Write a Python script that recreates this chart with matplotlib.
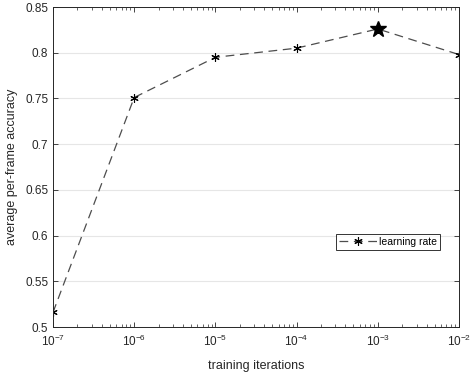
import numpy as np
import matplotlib.pyplot as plt
from matplotlib.ticker import LogLocator, NullFormatter

plt.rcParams['font.family'] = ['Liberation Sans', 'DejaVu Sans']
plt.rcParams['mathtext.fontset'] = 'custom'
plt.rcParams['mathtext.rm'] = 'Liberation Sans'
plt.rcParams['axes.unicode_minus'] = False

# data
learning_rate = [1e-7, 1e-6, 1e-5, 1e-4, 1e-3, 1e-2]
accuracy = [0.516, 0.751, 0.795, 0.805, 0.826, 0.798]
best_idx = 4
x_ticklabels = ['$10^{-7}$', '$10^{-6}$', '$10^{-5}$', '$10^{-4}$', '$10^{-3}$', '$10^{-2}$']
y_ticks = [0.5, 0.55, 0.6, 0.65, 0.7, 0.75, 0.8, 0.85]

fig = plt.figure(figsize=(4.71, 3.77), dpi=100)
ax = fig.add_axes([0.1125, 0.1326, 0.862, 0.8488])

ax.plot(learning_rate, accuracy, color='#4d4d4d', linestyle=(0, (7, 4.5)), linewidth=0.9,
        marker=(6, 2, 0), markersize=6, markeredgecolor='black', markeredgewidth=0.8,
        label='learning rate')
ax.plot(learning_rate[best_idx], accuracy[best_idx], marker='*', color='black',
        markersize=12, linestyle='none')

ax.set_xscale('log')
ax.set_xlim(1e-7, 1e-2)
ax.set_ylim(0.5, 0.85)
ax.set_yticks(y_ticks)
ax.set_yticklabels([f'{v:g}' for v in y_ticks])
ax.set_xticks(learning_rate)
ax.set_xticklabels(x_ticklabels)
ax.xaxis.set_minor_locator(LogLocator(base=10, subs=np.arange(2, 10), numticks=20))
ax.xaxis.set_minor_formatter(NullFormatter())

ax.grid(axis='y', color='#e6e6e6', linewidth=0.8)
ax.set_axisbelow(True)
ax.tick_params(which='both', direction='in', top=True, right=True, labelsize=8.5,
               colors='#262626')
ax.tick_params(which='major', length=3.5, width=0.6)
ax.tick_params(axis='x', which='major', pad=5)
ax.tick_params(which='minor', length=2, width=0.5)
for s in ax.spines.values():
    s.set_color('#262626')
    s.set_linewidth(0.7)

ax.set_xlabel('training iterations', fontsize=9, color='#262626', labelpad=8)
ax.set_ylabel('average per-frame accuracy', fontsize=9, color='#262626', labelpad=5)

leg = ax.legend(loc='upper left', bbox_to_anchor=(0.697, 0.292), fontsize=7.5,
                frameon=True, fancybox=False, edgecolor='black', handlelength=3.6,
                handletextpad=0.2, borderpad=0.3, borderaxespad=0)
leg.get_frame().set_linewidth(0.7)

fig.savefig('out.png', dpi=100)
